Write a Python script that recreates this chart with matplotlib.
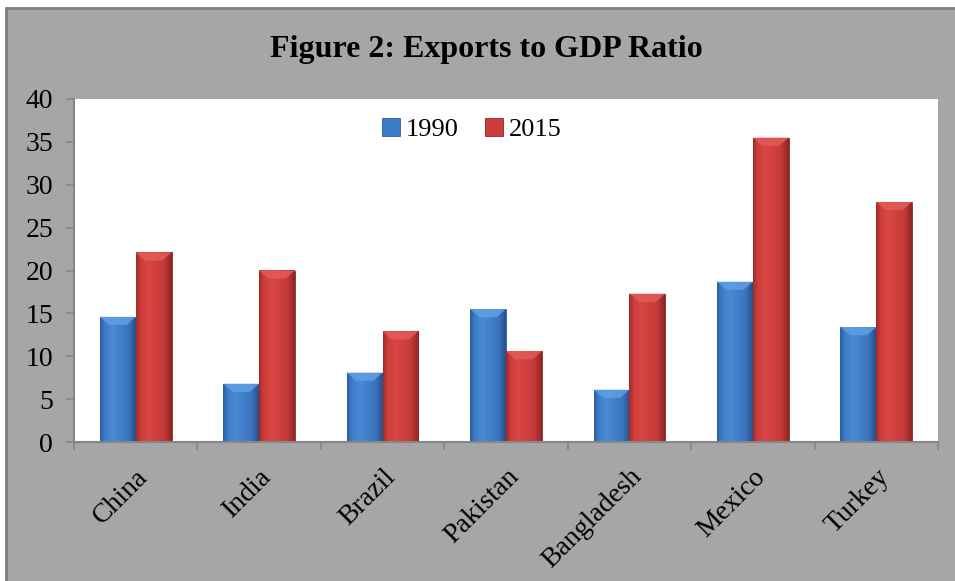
import numpy as np
import matplotlib
matplotlib.use('Agg')
import matplotlib.pyplot as plt
from matplotlib.patches import Rectangle, Polygon
from matplotlib.colors import to_rgb

countries = ['China', 'India', 'Brazil', 'Pakistan', 'Bangladesh', 'Mexico', 'Turkey']
exp_1990 = [14.6, 6.8, 8.1, 15.5, 6.1, 18.7, 13.4]
exp_2015 = [22.1, 20.0, 12.9, 10.6, 17.3, 35.5, 28.0]
yticks = [0, 5, 10, 15, 20, 25, 30, 35, 40]

plt.rcParams['font.family'] = ['Liberation Serif', 'DejaVu Serif']

bg = '#a6a6a6'
axis_col = '#868686'


def shade(stops):
    # horizontal gradient across one bar: list of (pos, colour)
    xs = np.linspace(0, 1, 64)
    pos = [p for p, c in stops]
    cols = np.array([to_rgb(c) for p, c in stops])
    img = np.stack([np.interp(xs, pos, cols[:, k]) for k in range(3)], axis=-1)
    return img[np.newaxis, :, :]


blue_grad = shade([(0, '#2d5f9e'), (0.12, '#3c7bc8'), (0.35, '#4a8ad6'),
                   (0.8, '#3a74bd'), (1, '#27508a')])
red_grad = shade([(0, '#9e2c2a'), (0.12, '#cc3d3b'), (0.35, '#da4744'),
                  (0.8, '#c23a38'), (1, '#8c2624')])

fig = plt.figure(figsize=(9.55, 5.81), dpi=100)
fig.patch.set_facecolor('white')
# grey chart area, its border only shows on the top and left edges
fig.patches.append(Rectangle((6 / 955, -0.05), 1.05, 1.05 - 8 / 581, transform=fig.transFigure,
                             facecolor=bg, edgecolor='#7f7f7f', linewidth=2,
                             zorder=-10))

ax = fig.add_axes([74 / 955, 1 - 442 / 581, 864 / 955, 343 / 581])
ax.set_facecolor('white')

x = np.arange(len(countries))
w = 0.29
b1 = ax.bar(x - w / 2, exp_1990, w, color='#3c7bc8', edgecolor='#2a5a9a',
            linewidth=0.6, label='1990', zorder=2)
b2 = ax.bar(x + w / 2, exp_2015, w, color='#cc3d3b', edgecolor='#8c2624',
            linewidth=0.6, label='2015', zorder=2)

# bevelled look: gradient fill plus a lighter cap at the top
for bars, grad, cap in [(b1, blue_grad, '#5f9fe2'), (b2, red_grad, '#e25c58')]:
    for p in bars:
        x0, y0 = p.get_x(), p.get_y()
        x1, y1 = x0 + p.get_width(), y0 + p.get_height()
        im = ax.imshow(grad, extent=[x0, x1, y0, y1],
                       aspect='auto', zorder=2.5, interpolation='bicubic')
        im.set_clip_path(p)
        d, dy = 0.075, 0.95
        ax.add_patch(Polygon([(x0, y1), (x1, y1), (x1 - d, y1 - dy), (x0 + d, y1 - dy)],
                             closed=True, facecolor=cap, edgecolor='none',
                             alpha=0.85, zorder=2.6))

ax.set_xlim(-0.5, len(countries) - 0.5)
ax.set_ylim(0, 40)
ax.set_yticks(yticks)
ax.set_yticklabels([str(t) for t in yticks], fontsize=20)
ax.set_xticks(x)
ax.set_xticklabels(countries, fontsize=20, rotation=45, ha='right',
                   rotation_mode='anchor')
ax.set_xticks(np.arange(-0.5, len(countries)), minor=True)
ax.tick_params(axis='x', which='major', length=0, pad=16)
ax.tick_params(axis='x', which='minor', length=6, color=axis_col, width=1.2)
ax.tick_params(axis='y', length=6, color=axis_col, width=1.2, pad=9)

for s in ['top', 'right']:
    ax.spines[s].set_visible(False)
for s in ['left', 'bottom']:
    ax.spines[s].set_color(axis_col)
    ax.spines[s].set_linewidth(1.5)

leg = ax.legend(loc='upper center', bbox_to_anchor=(0.46, 1.015), ncol=2,
                frameon=False, fontsize=19, handlelength=0.7, handleheight=0.7,
                handletextpad=0.2, columnspacing=1.0)

fig.text(486 / 955, 1 - 50 / 581, 'Figure 2: Exports to GDP Ratio', fontsize=23,
         fontweight='bold', ha='center', va='center')

plt.savefig('out.png', dpi=100, facecolor=fig.get_facecolor())
plt.close()
